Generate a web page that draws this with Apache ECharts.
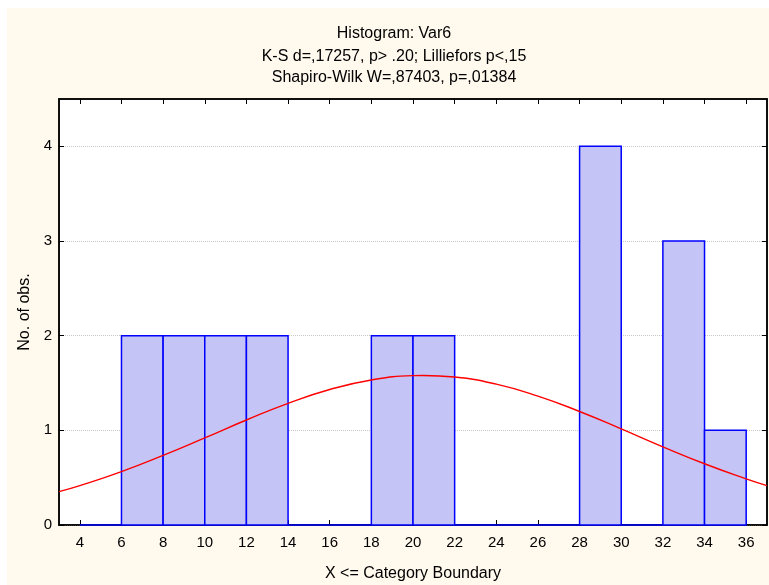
<!DOCTYPE html>
<html>
<head>
<meta charset="utf-8">
<script src="https://cdn.jsdelivr.net/npm/echarts@6/dist/echarts.min.js"></script>
<style>
html,body{margin:0;padding:0;background:#fff;}
#chart{width:769px;height:585px;}
</style>
</head>
<body>
<div id="chart"></div>
<script>
// Histogram bins (lower bound, upper bound) and counts
const binLower = [4, 6, 8, 10, 12, 14, 16, 18, 20, 22, 24, 26, 28, 30, 32, 34];
const binUpper = [6, 8, 10, 12, 14, 16, 18, 20, 22, 24, 26, 28, 30, 32, 34, 36];
const binCount = [0, 2, 2, 2, 2, 0, 0, 2, 2, 0, 0, 0, 4, 0, 3, 1];

// Fitted normal curve
const curveX = [3, 4, 6, 8, 10, 12, 14, 16, 18, 20, 20.5, 22, 24, 26, 28, 30, 32, 34, 36, 37];
const curveY = [0.352, 0.416, 0.564, 0.735, 0.920, 1.109, 1.285, 1.431, 1.532, 1.578, 1.58, 1.563, 1.488, 1.362, 1.199, 1.015, 0.826, 0.647, 0.487, 0.416];

// Tick labels
const xTicks = [4, 6, 8, 10, 12, 14, 16, 18, 20, 22, 24, 26, 28, 30, 32, 34, 36];
const yTicks = [0, 1, 2, 3, 4];

const titleLines = [
  'Histogram: Var6',
  'K-S d=,17257, p> .20; Lilliefors p<,15',
  'Shapiro-Wilk W=,87403, p=,01384'
];
const xAxisTitle = 'X <= Category Boundary';
const yAxisTitle = 'No. of obs.';

const FONT = '"Liberation Sans", Arial, sans-serif';

const barData = binLower.map((lo, i) => [lo, binUpper[i], binCount[i]]);
const lineData = curveX.map((x, i) => [x, curveY[i]]);

const chart = echarts.init(document.getElementById('chart'), null, {renderer: 'canvas'});

const axisCommonX = {
  type: 'value', min: 3, max: 37,
  axisLine: {show: true, onZero: false, lineStyle: {color: '#000', width: 1.5}},
  splitLine: {show: false}
};
const axisCommonY = {
  type: 'value', min: 0, max: 4.5, interval: 1,
  axisLine: {show: true, onZero: false, lineStyle: {color: '#000', width: 1.5}}
};

const titleY = [34, 56.5, 78];

chart.setOption({
  backgroundColor: '#ffffff',
  animation: false,
  graphic: {
    elements: [{
      type: 'rect', z: -100, silent: true,
      shape: {x: 7, y: 8, width: 762, height: 577},
      style: {fill: '#FFF9EE'}
    }].concat(titleLines.map((t, i) => ({
      type: 'text', silent: true, x: 394, y: titleY[i],
      style: {text: t, fill: '#000', font: '16px ' + FONT, textAlign: 'center', textVerticalAlign: 'middle'}
    })))
  },
  grid: {
    left: 59, top: 99, right: 2, bottom: 60,
    containLabel: false, outerBoundsMode: 'none',
    show: true, backgroundColor: '#ffffff', borderColor: '#000', borderWidth: 1.5
  },
  xAxis: [
    Object.assign({}, axisCommonX, {
      position: 'bottom',
      name: xAxisTitle, nameLocation: 'middle', nameGap: 41,
      nameTextStyle: {fontFamily: FONT, fontSize: 16, color: '#000'},
      axisTick: {show: true, inside: true, length: 5, customValues: xTicks, lineStyle: {color: '#000'}},
      axisLabel: {customValues: xTicks, fontFamily: FONT, fontSize: 15, color: '#000', margin: 10}
    }),
    Object.assign({}, axisCommonX, {
      position: 'top',
      axisTick: {show: true, inside: true, length: 5, customValues: xTicks, lineStyle: {color: '#000'}},
      axisLabel: {show: false}
    })
  ],
  yAxis: [
    Object.assign({}, axisCommonY, {
      position: 'left',
      name: yAxisTitle, nameLocation: 'middle', nameGap: 24,
      nameTextStyle: {fontFamily: FONT, fontSize: 16, color: '#000'},
      axisTick: {show: true, inside: true, length: 5, customValues: yTicks, lineStyle: {color: '#000'}},
      axisLabel: {customValues: yTicks, fontFamily: FONT, fontSize: 15, color: '#000', margin: 7},
      splitLine: {show: true, lineStyle: {color: '#C8C8C8', type: 'dotted', width: 1}}
    }),
    Object.assign({}, axisCommonY, {
      position: 'right',
      axisTick: {show: true, inside: true, length: 5, customValues: yTicks, lineStyle: {color: '#000'}},
      axisLabel: {show: false},
      splitLine: {show: false}
    })
  ],
  series: [
    {
      type: 'custom',
      xAxisIndex: 0, yAxisIndex: 0,
      encode: {x: [0, 1], y: 2},
      data: barData,
      z: 3,
      renderItem: function (params, api) {
        const p0 = api.coord([api.value(0), api.value(2)]);
        const p1 = api.coord([api.value(1), 0]);
        return {
          type: 'rect',
          shape: {x: p0[0], y: p0[1], width: p1[0] - p0[0], height: p1[1] - p0[1]},
          style: {fill: '#C4C4F6', stroke: '#0000FF', lineWidth: 1.5}
        };
      }
    },
    {
      type: 'line',
      xAxisIndex: 0, yAxisIndex: 0,
      data: lineData,
      smooth: true,
      showSymbol: false,
      symbol: 'none',
      clip: true,
      z: 4,
      lineStyle: {color: '#FF0000', width: 1.4}
    }
  ]
});
</script>
</body>
</html>
